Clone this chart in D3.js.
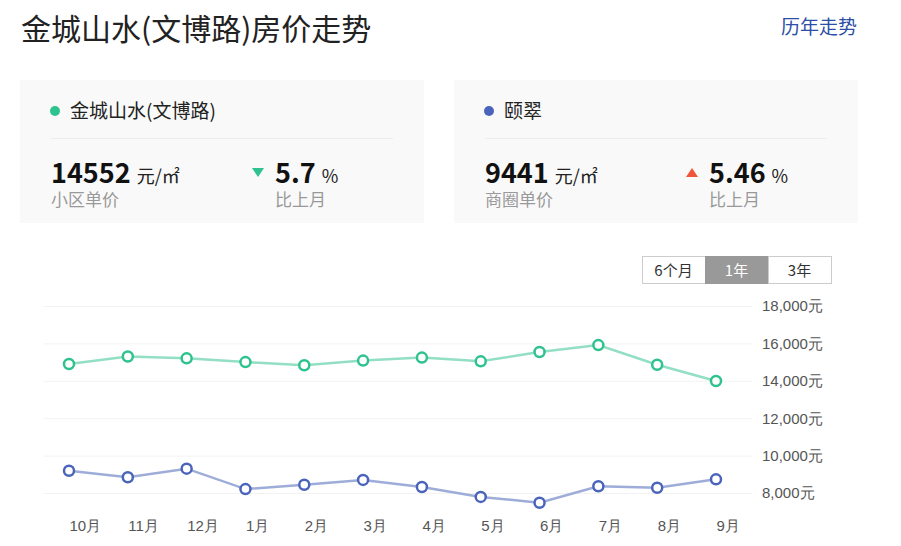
<!DOCTYPE html>
<html>
<head>
<meta charset="utf-8">
<script src="https://cdn.jsdelivr.net/npm/d3@7"></script>
<style>
  body { margin: 0; background: #fff; }
  svg { display: block; font-family: "Microsoft YaHei", "Noto Sans CJK SC", sans-serif; }
</style>
</head>
<body>
<script>
// data
const months = ["10月", "11月", "12月", "1月", "2月", "3月", "4月", "5月", "6月", "7月", "8月", "9月"];
const jcssPrice = [14900, 15300, 15200, 15000, 14830, 15080, 15240, 15040, 15540, 15910, 14860, 13990];
const yicuiPrice = [9190, 8840, 9300, 8210, 8440, 8700, 8320, 7790, 7480, 8360, 8280, 8730];
const yTicks = [8000, 10000, 12000, 14000, 16000, 18000];
const ranges = ["6个月", "1年", "3年"];

const cards = [
  { name: "金城山水(文博路)", color: "#2ec28e", price: "14552", label: "小区单价", change: "5.7", up: false },
  { name: "颐翠", color: "#4b64bb", price: "9441", label: "商圈单价", change: "5.46", up: true }
];

const width = 901, height = 546;

const svg = d3.select("body").append("svg")
  .attr("width", width)
  .attr("height", height);

// header
svg.append("text")
  .attr("x", 21).attr("y", 40)
  .attr("font-size", 30).attr("fill", "#222")
  .text("金城山水(文博路)房价走势");

svg.append("text")
  .attr("x", 857).attr("y", 34)
  .attr("text-anchor", "end")
  .attr("font-size", 19).attr("fill", "#2b4ea6")
  .text("历年走势");

// summary cards
cards.forEach((c, i) => {
  const g = svg.append("g").attr("transform", `translate(${20 + i * 434},80)`);
  g.append("rect").attr("width", 404).attr("height", 143).attr("fill", "#f9f9f9");
  g.append("circle").attr("cx", 35).attr("cy", 31).attr("r", 5).attr("fill", c.color);
  g.append("text").attr("x", 50).attr("y", 38).attr("font-size", 19).attr("fill", "#222").text(c.name);
  g.append("line").attr("x1", 31).attr("x2", 373).attr("y1", 58.5).attr("y2", 58.5)
    .attr("stroke", "#ececec");

  const price = g.append("text").attr("x", 31).attr("y", 103)
    .attr("font-size", 27).attr("font-weight", "bold").attr("fill", "#111").text(c.price);
  const pw = price.node().getComputedTextLength();
  g.append("text").attr("x", 31 + pw + 6).attr("y", 103)
    .attr("font-size", 18).attr("fill", "#222").text("元/㎡");
  g.append("text").attr("x", 31).attr("y", 126)
    .attr("font-size", 17).attr("fill", "#999").text(c.label);

  const cx = 238;
  const tri = c.up
    ? `M${cx - 6},97 L${cx + 6},97 L${cx},88 Z`
    : `M${cx - 6},88 L${cx + 6},88 L${cx},97 Z`;
  g.append("path").attr("d", tri).attr("fill", c.up ? "#f0563a" : "#2ec28e");
  const ch = g.append("text").attr("x", cx + 17).attr("y", 103)
    .attr("font-size", 27).attr("font-weight", "bold").attr("fill", "#111").text(c.change);
  const cw = ch.node().getComputedTextLength();
  g.append("text").attr("x", cx + 17 + cw + 6).attr("y", 103)
    .attr("font-size", 18).attr("fill", "#222").text("%");
  g.append("text").attr("x", cx + 17).attr("y", 126)
    .attr("font-size", 17).attr("fill", "#999").text("比上月");
});

// range buttons
const btn = svg.append("g").attr("transform", "translate(642,256)");
ranges.forEach((r, i) => {
  const active = r === "1年";
  btn.append("rect")
    .attr("x", i * 63 + 0.5).attr("y", 0.5)
    .attr("width", 63).attr("height", 27)
    .attr("fill", active ? "#999" : "#fff")
    .attr("stroke", active ? "#999" : "#ccc");
  btn.append("text")
    .attr("x", i * 63 + 31.5).attr("y", 19.5)
    .attr("text-anchor", "middle")
    .attr("font-size", 15).attr("fill", active ? "#fff" : "#333")
    .text(r);
});

// chart
const xScale = d3.scalePoint().domain(months).range([69, 716]);
const yScale = d3.scaleLinear().domain([8000, 18000]).range([493, 306]);

const ay = svg.append("g")
  .attr("transform", "translate(44,0)")
  .call(d3.axisRight(yScale).tickValues(yTicks).tickSize(708).tickPadding(10)
    .tickFormat(d => d3.format(",")(d) + "元"));
ay.select(".domain").remove();
ay.selectAll("line").attr("stroke", "#f2f2f2");
ay.selectAll("text").attr("font-size", 15).attr("fill", "#555").attr("font-family", null);

const ax = svg.append("g")
  .attr("transform", "translate(0,520)")
  .call(d3.axisBottom(xScale).tickSize(0).tickPadding(0));
ax.select(".domain").remove();
ax.selectAll("text")
  .attr("text-anchor", "start")
  .attr("font-size", 15).attr("fill", "#555").attr("font-family", null);

const series = [
  { values: jcssPrice, line: "#92dfc3", mark: "#2ec28e" },
  { values: yicuiPrice, line: "#9eacd9", mark: "#4b64bb" }
];

const line = d3.line().x((d, i) => xScale(months[i])).y(d => yScale(d));

series.forEach(s => {
  svg.append("path")
    .datum(s.values)
    .attr("d", line)
    .attr("fill", "none")
    .attr("stroke", s.line)
    .attr("stroke-width", 2.5);
  svg.append("g")
    .selectAll("circle")
    .data(s.values)
    .enter()
    .append("circle")
    .attr("cx", (d, i) => xScale(months[i]))
    .attr("cy", d => yScale(d))
    .attr("r", 5)
    .attr("fill", "#fff")
    .attr("stroke", s.mark)
    .attr("stroke-width", 2.5);
});
</script>
</body>
</html>
